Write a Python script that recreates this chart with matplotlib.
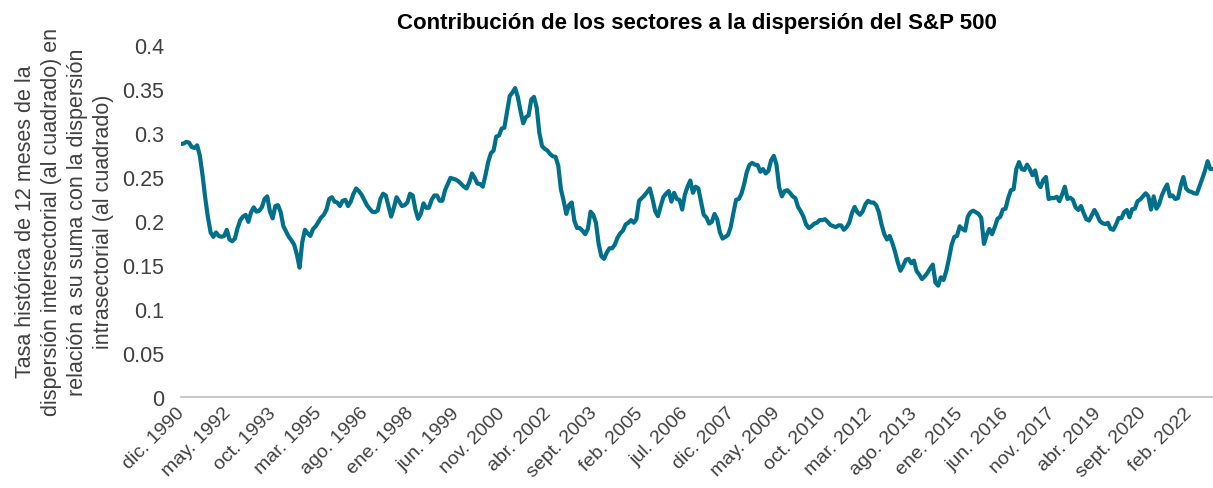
import matplotlib
matplotlib.use("Agg")
import matplotlib.pyplot as plt
from matplotlib.transforms import ScaledTranslation

plt.rcParams['font.family'] = ['Liberation Sans', 'DejaVu Sans']

# monthly values, dic. 1990 onwards
dispersion = [
    0.2875, 0.288, 0.290, 0.289, 0.284, 0.283, 0.286, 0.274, 0.252, 0.226, 0.204, 0.187,
    0.182, 0.187, 0.183, 0.182, 0.183, 0.190, 0.179, 0.177, 0.180, 0.192, 0.201, 0.205,
    0.207, 0.199, 0.210, 0.2155, 0.2106, 0.2115, 0.2155, 0.225, 0.228, 0.211, 0.203, 0.217,
    0.218, 0.210, 0.194, 0.188, 0.182, 0.178, 0.173, 0.162, 0.147, 0.176, 0.190, 0.186,
    0.183, 0.191, 0.194, 0.199, 0.204, 0.207, 0.213, 0.225, 0.227, 0.222, 0.221, 0.217,
    0.223, 0.224, 0.217, 0.222, 0.231, 0.237, 0.234, 0.230, 0.224, 0.218, 0.214, 0.2105,
    0.210, 0.212, 0.225, 0.231, 0.229, 0.217, 0.205, 0.215, 0.227, 0.222, 0.217, 0.218,
    0.221, 0.231, 0.229, 0.213, 0.2025, 0.208, 0.220, 0.215, 0.215, 0.224, 0.229, 0.229,
    0.223, 0.223, 0.235, 0.242, 0.249, 0.248, 0.247, 0.245, 0.242, 0.239, 0.237, 0.244,
    0.254, 0.249, 0.2425, 0.242, 0.239, 0.252, 0.267, 0.277, 0.280, 0.296, 0.297, 0.305,
    0.306, 0.324, 0.342, 0.346, 0.351, 0.341, 0.325, 0.311, 0.318, 0.320, 0.338, 0.341,
    0.329, 0.300, 0.285, 0.282, 0.280, 0.276, 0.2735, 0.273, 0.263, 0.236, 0.223, 0.208,
    0.218, 0.221, 0.200, 0.192, 0.192, 0.189, 0.185, 0.191, 0.2106, 0.207, 0.198, 0.174,
    0.160, 0.157, 0.164, 0.169, 0.169, 0.173, 0.181, 0.186, 0.189, 0.196, 0.198, 0.201,
    0.198, 0.202, 0.223, 0.226, 0.229, 0.233, 0.237, 0.225, 0.211, 0.2055, 0.2165, 0.227,
    0.231, 0.234, 0.222, 0.232, 0.225, 0.224, 0.213, 0.230, 0.239, 0.246, 0.232, 0.239,
    0.237, 0.222, 0.207, 0.204, 0.197, 0.199, 0.208, 0.202, 0.187, 0.180, 0.182, 0.184,
    0.193, 0.209, 0.224, 0.225, 0.231, 0.242, 0.256, 0.264, 0.266, 0.264, 0.2636, 0.256,
    0.259, 0.254, 0.257, 0.269, 0.274, 0.264, 0.238, 0.228, 0.234, 0.235, 0.232, 0.228,
    0.226, 0.216, 0.211, 0.205, 0.196, 0.192, 0.194, 0.197, 0.198, 0.201, 0.201, 0.202,
    0.199, 0.1955, 0.1942, 0.193, 0.195, 0.195, 0.190, 0.193, 0.198, 0.209, 0.216, 0.210,
    0.207, 0.211, 0.219, 0.223, 0.221, 0.221, 0.218, 0.210, 0.196, 0.185, 0.179, 0.183,
    0.175, 0.165, 0.153, 0.1435, 0.149, 0.156, 0.157, 0.152, 0.155, 0.143, 0.139, 0.134,
    0.137, 0.141, 0.146, 0.1505, 0.130, 0.1265, 0.136, 0.133, 0.143, 0.157, 0.173, 0.182,
    0.183, 0.194, 0.191, 0.189, 0.205, 0.210, 0.2117, 0.210, 0.208, 0.2035, 0.174, 0.184,
    0.191, 0.185, 0.193, 0.2025, 0.2045, 0.213, 0.214, 0.226, 0.235, 0.236, 0.259, 0.267,
    0.259, 0.258, 0.264, 0.259, 0.252, 0.2575, 0.243, 0.2385, 0.2465, 0.250, 0.225, 0.226,
    0.226, 0.2275, 0.2225, 0.230, 0.239, 0.225, 0.2265, 0.224, 0.2155, 0.2125, 0.217, 0.209,
    0.202, 0.2005, 0.2065, 0.2125, 0.207, 0.200, 0.1975, 0.1965, 0.198, 0.191, 0.190, 0.196,
    0.2035, 0.203, 0.210, 0.2125, 0.2042, 0.2135, 0.214, 0.2225, 0.2245, 0.228, 0.2315, 0.228,
    0.213, 0.228, 0.214, 0.219, 0.229, 0.236, 0.2415, 0.228, 0.229, 0.225, 0.226, 0.240,
    0.250, 0.237, 0.234, 0.233, 0.2315, 0.231, 0.2395, 0.248, 0.257, 0.268, 0.259, 0.259,
]

tick_labels = ["dic. 1990", "may. 1992", "oct. 1993", "mar. 1995", "ago. 1996",
               "ene. 1998", "jun. 1999", "nov. 2000", "abr. 2002", "sept. 2003",
               "feb. 2005", "jul. 2006", "dic. 2007", "may. 2009", "oct. 2010",
               "mar. 2012", "ago. 2013", "ene. 2015", "jun. 2016", "nov. 2017",
               "abr. 2019", "sept. 2020", "feb. 2022"]
tick_step = 17

fig = plt.figure(figsize=(12.13, 4.89), dpi=100)
ax = fig.add_axes([181 / 1213, 1 - 398 / 489, 1 - 181 / 1213, (398 - 46) / 489])

ax.plot(range(len(dispersion)), dispersion, color="#00708A", lw=3.0, solid_joinstyle="round")

ax.set_xlim(0, len(dispersion) - 1)
ax.set_ylim(0, 0.4)
ax.set_yticks([0, 0.05, 0.1, 0.15, 0.2, 0.25, 0.3, 0.35, 0.4])
ax.set_yticklabels(["0", "0.05", "0.1", "0.15", "0.2", "0.25", "0.3", "0.35", "0.4"], fontsize=15.5)
ax.set_xticks(range(0, len(dispersion), tick_step)[:len(tick_labels)])
ax.set_xticklabels(tick_labels, rotation=45, ha="right", va="top",
                   rotation_mode="anchor", fontsize=14)
ax.tick_params(axis="both", length=0, colors="#404040")
ax.tick_params(axis="x", pad=5)
ax.tick_params(axis="y", pad=12)

# nudge rotated labels so their end sits at the category
shift = ScaledTranslation(-5 / 100, 0, fig.dpi_scale_trans)
for lbl in ax.get_xticklabels():
    lbl.set_transform(lbl.get_transform() + shift)

for s in ["top", "right", "left"]:
    ax.spines[s].set_visible(False)
ax.spines["bottom"].set_color("#BFBFBF")
ax.spines["bottom"].set_linewidth(1.2)

ax.set_title("Contribución de los sectores a la dispersión del S&P 500",
             fontsize=16, fontweight="bold", pad=12)
ax.set_ylabel("Tasa histórica de 12 meses de la\ndispersión intersectorial (al cuadrado) en\n"
              "relación a su suma con la dispersión\nintrasectorial (al cuadrado)",
              fontsize=15.5, color="#404040", linespacing=1.3, labelpad=6)

fig.savefig("out.png", dpi=100)
